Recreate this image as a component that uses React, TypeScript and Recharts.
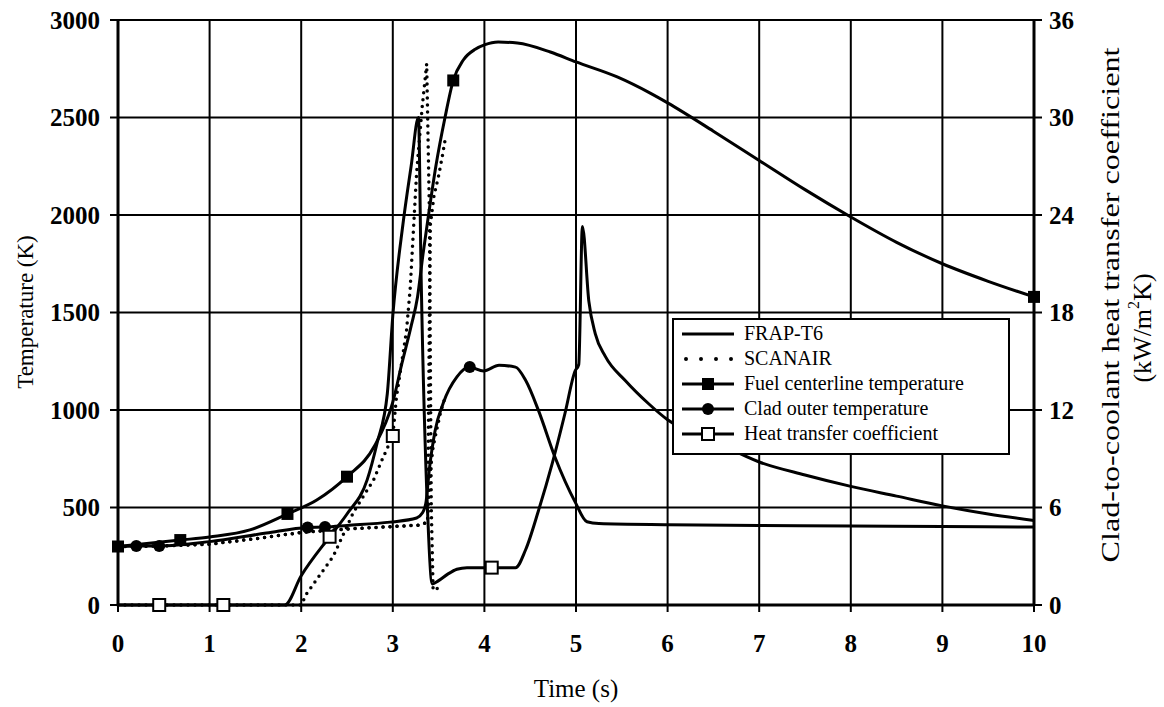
import React from "react";
import { LineChart, Line, XAxis, YAxis, CartesianGrid, Legend } from "recharts";

// Values. Temperatures in K, heat transfer coefficient in kW/m2K.
const fuelFrapTime = [0, 0.68, 1.0, 1.44, 1.85, 2.17, 2.5, 2.8, 3.0, 3.1, 3.2, 3.27, 3.33, 3.39, 3.47, 3.57, 3.66, 3.77, 3.9, 4.0, 4.15, 4.36, 4.72, 5.0, 5.45, 5.81, 6.0, 6.5, 7.0, 7.5, 8.0, 8.5, 9.0, 9.5, 10];
const fuelFrapTemp = [300, 333, 349, 385, 467, 538, 658, 815, 1040, 1240, 1430, 1580, 1800, 2000, 2250, 2500, 2690, 2795, 2850, 2872, 2887, 2882, 2836, 2785, 2708, 2625, 2575, 2430, 2280, 2130, 1990, 1860, 1750, 1660, 1580];

const fuelScanTime = [0, 0.5, 1.0, 1.5, 2.0, 2.5, 3.0, 3.3, 3.38, 3.4, 3.41, 3.45, 3.5, 3.54, 3.58];
const fuelScanTemp = [300, 303, 312, 340, 372, 390, 402, 410, 425, 1500, 1950, 2100, 2200, 2300, 2410];

const cladFrapTime = [0, 0.2, 0.45, 1.0, 1.62, 2.07, 2.26, 2.5, 2.97, 3.26, 3.32, 3.36, 3.4, 3.46, 3.55, 3.7, 3.84, 3.99, 4.16, 4.34, 4.45, 4.59, 4.77, 4.99, 5.12, 5.25, 6, 7, 8, 9, 10];
const cladFrapTemp = [300, 303, 303, 325, 369, 398, 400, 408, 425, 446, 470, 520, 700, 890, 1035, 1170, 1220, 1200, 1229, 1220, 1152, 998, 759, 529, 427, 418, 412, 408, 405, 402, 400];

const cladScanTime = [0, 0.5, 1.0, 1.5, 2.0, 2.5, 3.0, 3.3, 3.38, 3.41, 3.44, 3.48, 3.52, 3.58];
const cladScanTemp = [300, 303, 312, 340, 372, 390, 402, 410, 425, 690, 810, 900, 985, 1080];

const htcFrapTime = [0, 0.45, 1.15, 1.82, 2.0, 2.31, 2.5, 2.72, 2.83, 2.94, 3.0, 3.11, 3.2, 3.28, 3.31, 3.38, 3.43, 3.5, 3.6, 3.7, 3.81, 4.08, 4.34, 4.45, 4.59, 4.74, 4.88, 4.99, 5.03, 5.07, 5.14, 5.21, 5.32, 5.54, 5.79, 6.0, 6.5, 7.0, 7.5, 8.0, 8.5, 9.0, 9.5, 10];
const htcFrapValue = [0, 0, 0, 0, 1.8, 4.2, 5.6, 7.7, 10.0, 13.0, 17.8, 23.4, 27.0, 30.0, 20.0, 5.7, 1.3, 1.5, 1.9, 2.2, 2.3, 2.3, 2.3, 3.4, 5.8, 8.7, 11.8, 14.4, 14.8, 23.3, 18.7, 16.7, 15.3, 13.8, 12.4, 11.4, 10.1, 8.8, 8.0, 7.3, 6.7, 6.1, 5.6, 5.2];

const htcScanTime = [0, 1.15, 2.0, 2.06, 2.35, 2.57, 2.79, 2.88, 3.0, 3.04, 3.15, 3.19, 3.26, 3.32, 3.37, 3.4, 3.42, 3.44, 3.52];
const htcScanValue = [0, 0, 0, 0.7, 3.0, 5.7, 7.7, 8.9, 10.4, 12.8, 16.9, 19.5, 26.6, 30.6, 33.3, 24, 6, 0.9, 1.1];

// times at which the original figure puts a marker on the curve
const fuelMarkTimes = [0, 0.68, 1.85, 2.5, 3.66, 10];
const cladMarkTimes = [0.2, 0.45, 2.07, 2.26, 3.84];
const htcFrapMarkTimes = [0.45, 1.15, 2.31, 4.08];
const htcScanMarkTimes = [3.0];

const timeTicks = [0, 1, 2, 3, 4, 5, 6, 7, 8, 9, 10];
const tempTicks = [0, 500, 1000, 1500, 2000, 2500, 3000];
const htcTicks = [0, 6, 12, 18, 24, 30, 36];

const zip = (t: number[], v: number[]) => t.map((time, i) => ({ t: time, v: v[i] }));

const FONT = "'Liberation Serif', 'Times New Roman', serif";
const INK = "#000";
const DOTS = "0 7";

type Kind = "square" | "circle" | "open";

function Marker({ kind, cx, cy }: { kind: Kind; cx: number; cy: number }) {
  if (kind === "circle") return <circle cx={cx} cy={cy} r={6} fill={INK} />;
  if (kind === "square") return <rect x={cx - 6} y={cy - 6} width={12} height={12} fill={INK} />;
  return <rect x={cx - 6} y={cy - 6} width={12} height={12} fill="#fff" stroke={INK} strokeWidth={2} />;
}

// only draws a marker on the listed times, the rest of the points stay bare
const markerDot = (times: number[], kind: Kind) => (p: any) =>
  times.includes(p.payload.t) ? (
    <g key={`m-${kind}-${p.index}`}>
      <Marker kind={kind} cx={p.cx} cy={p.cy} />
    </g>
  ) : (
    <g key={`n-${kind}-${p.index}`} />
  );

const legendRows: { label: string; dotted?: boolean; kind?: Kind }[] = [
  { label: "FRAP-T6" },
  { label: "SCANAIR", dotted: true },
  { label: "Fuel centerline temperature", kind: "square" },
  { label: "Clad outer temperature", kind: "circle" },
  { label: "Heat transfer coefficient", kind: "open" },
];

function LegendBox() {
  return (
    <div
      style={{
        width: 338,
        height: 137,
        boxSizing: "border-box",
        border: `2px solid ${INK}`,
        background: "#fff",
        paddingTop: 1,
        fontFamily: FONT,
        fontSize: 20,
        color: INK,
      }}
    >
      {legendRows.map((r) => (
        <div key={r.label} style={{ display: "flex", alignItems: "center", height: 25 }}>
          <svg width={66} height={20} style={{ marginLeft: 4 }}>
            {r.dotted ? (
              <line x1={8} y1={10} x2={56} y2={10} stroke={INK} strokeWidth={4} strokeDasharray="0 15" strokeLinecap="round" />
            ) : (
              <line x1={4} y1={10} x2={56} y2={10} stroke={INK} strokeWidth={3} />
            )}
            {r.kind && <Marker kind={r.kind} cx={30} cy={10} />}
          </svg>
          <span>{r.label}</span>
        </div>
      ))}
    </div>
  );
}

const axisTick = { fill: INK, fontSize: 25, fontWeight: 700, fontFamily: FONT };

export default function App() {
  return (
    <div style={{ position: "absolute", left: 0, top: 0, width: 1164, height: 707, background: "#fff" }}>
      <LineChart width={1164} height={707} margin={{ top: 20, right: 70, bottom: 62, left: 58 }}>
        <CartesianGrid yAxisId="temp" stroke={INK} strokeWidth={2} />
        <XAxis
          dataKey="t"
          type="number"
          domain={[0, 10]}
          ticks={timeTicks}
          allowDuplicatedCategory={false}
          height={40}
          axisLine={{ stroke: INK, strokeWidth: 3 }}
          tickLine={{ stroke: INK, strokeWidth: 2 }}
          tickSize={7}
          tickMargin={22}
          tick={axisTick}
          label={{
            content: () => (
              <text x={576} y={688} textAnchor="middle" dominantBaseline="central" fontFamily={FONT} fontSize={25} fill={INK}>
                Time (s)
              </text>
            ),
          }}
        />
        <YAxis
          yAxisId="temp"
          type="number"
          domain={[0, 3000]}
          ticks={tempTicks}
          width={60}
          axisLine={{ stroke: INK, strokeWidth: 3 }}
          tickLine={{ stroke: INK, strokeWidth: 2 }}
          tickSize={8}
          tickMargin={10}
          tick={axisTick}
          label={{
            content: () => (
              <text x={25} y={312} transform="rotate(-90 25 312)" textAnchor="middle" dominantBaseline="central" fontFamily={FONT} fontSize={23} fill={INK}>
                Temperature (K)
              </text>
            ),
          }}
        />
        <YAxis
          yAxisId="htc"
          orientation="right"
          type="number"
          domain={[0, 36]}
          ticks={htcTicks}
          width={60}
          axisLine={{ stroke: INK, strokeWidth: 3 }}
          tickLine={{ stroke: INK, strokeWidth: 2 }}
          tickSize={8}
          tickMargin={7}
          tick={axisTick}
          label={{
            content: () => (
              <g fontFamily={FONT} fill={INK}>
                <text
                  x={1110}
                  y={305}
                  transform="rotate(-90 1110 305)"
                  textAnchor="middle"
                  dominantBaseline="central"
                  fontSize={25}
                  textLength={515}
                  lengthAdjust="spacingAndGlyphs"
                >
                  Clad-to-coolant heat transfer coefficient
                </text>
                <text x={1142} y={328} transform="rotate(-90 1142 328)" textAnchor="middle" dominantBaseline="central" fontSize={26}>
                  (kW/m
                  <tspan fontSize={16} dy={-9}>2</tspan>
                  <tspan dy={9}>K)</tspan>
                </text>
              </g>
            ),
          }}
        />
        <Legend
          layout="vertical"
          align="center"
          verticalAlign="middle"
          content={() => <LegendBox />}
          wrapperStyle={{ left: 672, top: 318, width: 338, height: 137 }}
        />

        <Line yAxisId="temp" data={zip(fuelScanTime, fuelScanTemp)} dataKey="v" stroke={INK} strokeWidth={3.5} strokeDasharray={DOTS} strokeLinecap="round" dot={false} isAnimationActive={false} />
        <Line yAxisId="temp" data={zip(cladScanTime, cladScanTemp)} dataKey="v" stroke={INK} strokeWidth={3.5} strokeDasharray={DOTS} strokeLinecap="round" dot={false} isAnimationActive={false} />
        <Line yAxisId="htc" data={zip(htcScanTime, htcScanValue)} dataKey="v" stroke={INK} strokeWidth={3.5} strokeDasharray={DOTS} strokeLinecap="round" dot={markerDot(htcScanMarkTimes, "open")} isAnimationActive={false} />

        <Line type="monotone" yAxisId="temp" data={zip(fuelFrapTime, fuelFrapTemp)} dataKey="v" stroke={INK} strokeWidth={3} dot={markerDot(fuelMarkTimes, "square")} isAnimationActive={false} />
        <Line type="monotone" yAxisId="temp" data={zip(cladFrapTime, cladFrapTemp)} dataKey="v" stroke={INK} strokeWidth={3} dot={markerDot(cladMarkTimes, "circle")} isAnimationActive={false} />
        <Line type="monotone" yAxisId="htc" data={zip(htcFrapTime, htcFrapValue)} dataKey="v" stroke={INK} strokeWidth={3} dot={markerDot(htcFrapMarkTimes, "open")} isAnimationActive={false} />
      </LineChart>
    </div>
  );
}
